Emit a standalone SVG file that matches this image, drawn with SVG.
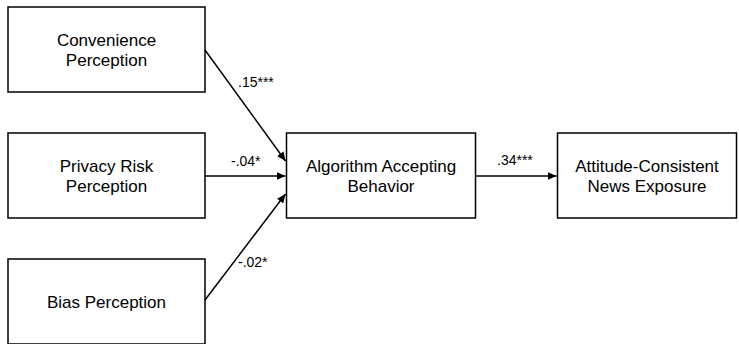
<svg xmlns="http://www.w3.org/2000/svg" width="739" height="344" viewBox="0 0 739 344">
<defs>
<marker id="ah" markerWidth="10" markerHeight="8" refX="9" refY="4" orient="auto" markerUnits="userSpaceOnUse">
<path d="M0,0 L9,4 L0,8 z" fill="#000"/>
</marker>
<style>
.box{fill:#fff;stroke:#000;stroke-width:1.5}
.t{font-family:"Liberation Sans",Arial,sans-serif;font-size:17px;fill:#000;text-anchor:middle}
.l{font-family:"Liberation Sans",Arial,sans-serif;font-size:14px;fill:#000}
.c{stroke:#000;stroke-width:1.5;fill:none;marker-end:url(#ah)}
</style>
</defs>
<rect width="739" height="344" fill="#fff"/>
<g id="convenience">
<rect class="box" x="8" y="7" width="197" height="85"/>
<text class="t" x="106.5" y="46">Convenience</text>
<text class="t" x="106.5" y="66">Perception</text>
</g>
<g id="privacy">
<rect class="box" x="8" y="133" width="197" height="85"/>
<text class="t" x="106.5" y="172">Privacy Risk</text>
<text class="t" x="106.5" y="192">Perception</text>
</g>
<g id="bias">
<rect class="box" x="8" y="259" width="197" height="85"/>
<text class="t" x="106.5" y="308">Bias Perception</text>
</g>
<g id="algorithm">
<rect class="box" x="286.5" y="133" width="189" height="85"/>
<text class="t" x="381" y="172">Algorithm Accepting</text>
<text class="t" x="381" y="192">Behavior</text>
</g>
<g id="attitude">
<rect class="box" x="557.5" y="133" width="179" height="85"/>
<text class="t" x="647" y="172">Attitude-Consistent</text>
<text class="t" x="647" y="192">News Exposure</text>
</g>
<g id="connectors">
<line class="c" x1="205" y1="50" x2="285.5" y2="161"/>
<line class="c" x1="205" y1="176" x2="285.5" y2="176"/>
<line class="c" x1="205" y1="300" x2="285.5" y2="194"/>
<line class="c" x1="475.5" y1="176" x2="556.5" y2="176"/>
<text class="l" x="238" y="87">.15***</text>
<text class="l" x="231" y="166">-.04*</text>
<text class="l" x="238" y="267">-.02*</text>
<text class="l" x="497" y="165">.34***</text>
</g>
</svg>
